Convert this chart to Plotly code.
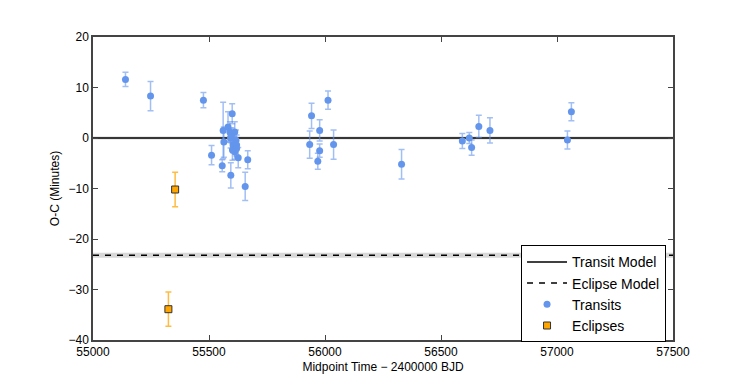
import plotly.graph_objects as go

# Transit O-C data (Midpoint time - 2400000 BJD, minutes)
transit_t = [55140, 55248, 55476, 55511, 55557, 55561, 55564, 55582, 55590, 55593,
             55594, 55597, 55600, 55601, 55604, 55611, 55611, 55616, 55619, 55619,
             55626, 55656, 55667, 55934, 55942, 55969, 55977, 55977, 56013, 56037,
             56330, 56592, 56622, 56632, 56663, 56711, 57045, 57062]
transit_oc = [11.6, 8.3, 7.5, -3.4, -5.5, 1.5, -0.8, 2.2, 1.2, 0.0,
              -7.4, 0.5, 4.8, -2.4, -1.4, 1.2, -2.7, -0.4, -1.4, -2.1,
              -3.9, -9.6, -4.3, -1.3, 4.4, -4.6, -2.5, 1.5, 7.5, -1.3,
              -5.2, -0.6, 0.0, -1.9, 2.3, 1.5, -0.4, 5.2]
transit_err = [1.4, 2.9, 1.5, 1.9, 1.2, 5.6, 3.0, 3.0, 2.0, 2.0,
               2.5, 1.5, 2.0, 2.0, 1.5, 2.0, 1.5, 2.0, 2.0, 1.5,
               2.0, 2.8, 1.8, 2.7, 2.5, 1.6, 1.3, 2.1, 1.8, 2.9,
               2.9, 1.5, 1.1, 1.5, 2.2, 2.5, 1.8, 1.8]

# Eclipse O-C data
eclipse_t = [55354, 55325]
eclipse_oc = [-10.2, -33.9]
eclipse_err = [3.4, 3.4]

# Models
transit_model = 0.0
transit_model_unc = 0.3
eclipse_model = -23.2
eclipse_model_unc = 0.5

x_range = [55000, 57500]
y_range = [-40, 20]
x_ticks = [55000, 55500, 56000, 56500, 57000, 57500]
y_ticks = [-40, -30, -20, -10, 0, 10, 20]

fig = go.Figure()

# uncertainty bands
for m, u in [(transit_model, transit_model_unc), (eclipse_model, eclipse_model_unc)]:
    fig.add_trace(go.Scatter(x=x_range + x_range[::-1], y=[m + u, m + u, m - u, m - u],
                             mode="lines", fill="toself", fillcolor="rgba(190,190,190,0.6)",
                             line=dict(width=0), showlegend=False, hoverinfo="skip"))

fig.add_trace(go.Scatter(x=x_range, y=[transit_model] * 2, mode="lines",
                         line=dict(color="black", width=1.5), name="Transit Model"))
fig.add_trace(go.Scatter(x=x_range, y=[eclipse_model] * 2, mode="lines",
                         line=dict(color="black", width=1.5, dash="6px,6px"), name="Eclipse Model"))

fig.add_trace(go.Scatter(x=transit_t, y=transit_oc, mode="markers", name="Transits",
                         marker=dict(color="#6495ED", size=7, line=dict(width=0)),
                         error_y=dict(type="data", array=transit_err, color="rgba(100,149,237,0.6)",
                                      thickness=1.5, width=3)))
fig.add_trace(go.Scatter(x=eclipse_t, y=eclipse_oc, mode="markers", name="Eclipses",
                         marker=dict(color="#FFA500", size=7, symbol="square",
                                     line=dict(color="#333333", width=1)),
                         error_y=dict(type="data", array=eclipse_err, color="rgba(255,165,0,0.75)",
                                      thickness=1.5, width=3)))

axis_common = dict(showline=True, linecolor="#444", linewidth=1.5, mirror="ticks",
                   ticks="inside", ticklen=5, tickcolor="#444", showgrid=False, zeroline=False,
                   tickfont=dict(size=12, color="black"))

fig.update_xaxes(range=x_range, tickvals=x_ticks, ticktext=[str(v) for v in x_ticks],
                 title=dict(text="Midpoint Time \u2212 2400000 BJD", font=dict(size=12), standoff=4),
                 automargin=False, **axis_common)
fig.update_yaxes(range=y_range, tickvals=y_ticks,
                 ticktext=[("\u2212" + str(-v)) if v < 0 else str(v) for v in y_ticks],
                 title=dict(text="O-C (Minutes)", font=dict(size=12), standoff=6),
                 automargin=False, **axis_common)

fig.update_layout(
    width=739, height=371,
    margin=dict(l=85, r=74, t=29, b=39),
    plot_bgcolor="white", paper_bgcolor="white",
    font=dict(family="Liberation Sans, Arial, sans-serif", color="black"),
    legend=dict(x=0.738, y=0.3125, xanchor="left", yanchor="top",
                bordercolor="black", borderwidth=1, bgcolor="white",
                font=dict(size=14), tracegroupgap=0, itemwidth=40),
    showlegend=True,
)

fig.write_html("out.html")
